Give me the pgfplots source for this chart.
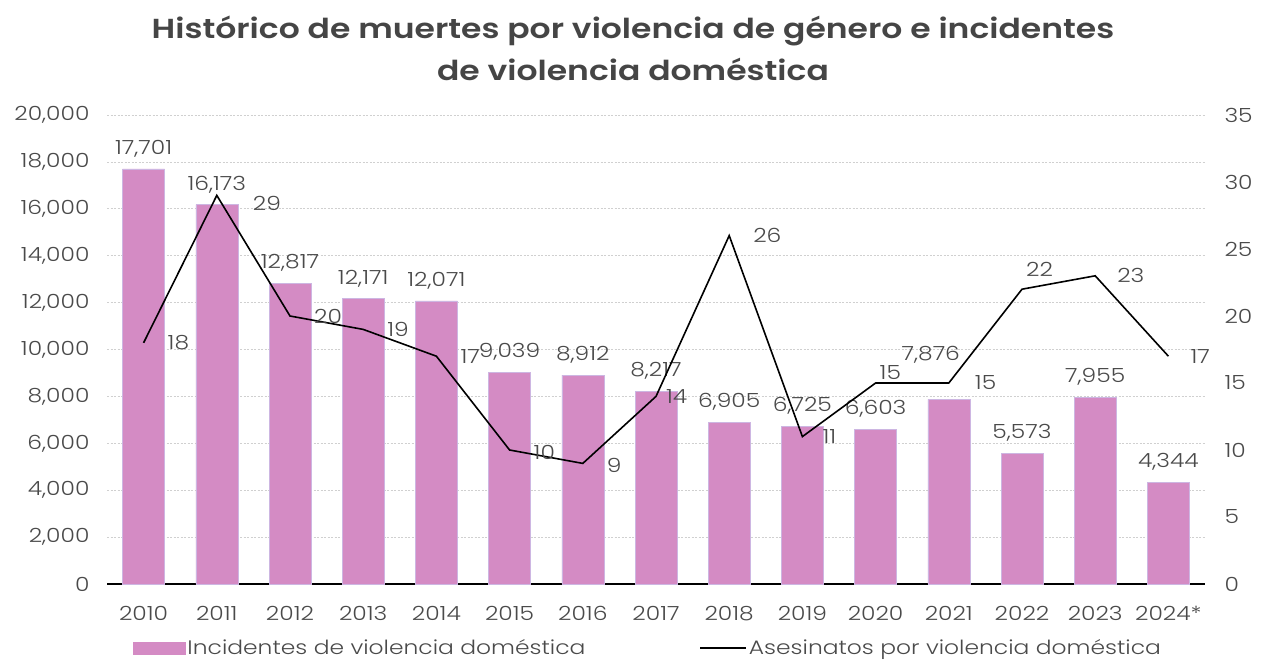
\documentclass[border=0pt]{standalone}
\usepackage{pgfplots}
\pgfplotsset{compat=1.18}
\usepackage{pgfplotstable}
\usepackage{fontspec}
\setmainfont{Poppins}[UprightFont=*-Light, BoldFont=*-SemiBold, FakeStretch=1.2]
\definecolor{barpink}{HTML}{D48BC4}
\definecolor{baredge}{HTML}{CDB6E2}
\definecolor{txt}{HTML}{4A4A4A}
\definecolor{ttl}{HTML}{454545}
\definecolor{gridc}{HTML}{D0D0D0}

\pgfplotstableread{
x y dx dy
0 17701 0 0
1 16173 0 0
2 12817 0 0
3 12171 0 0
4 12071 0 0
5 9039 0 0
6 8912 0 0
7 8217 0 0
8 6905 0 0
9 6725 0 0
10 6603 0 0
11 7876 -18 24
12 5573 0 0
13 7955 0 0
14 4344 0 0
}\bars

\pgfplotstableread{
x y dx dy
0 18 20 0
1 29 32 -8
2 20 20 0
3 19 20 0
4 17 20 0
5 10 20 -2
6 9 20 -2
7 14 6 0
8 26 20 0
9 11 16 0
10 15 0 10
11 15 22 0
12 22 0 20
13 23 18 0
14 17 18 0
}\lines

\begin{document}
\begin{tikzpicture}
\useasboundingbox (0,0) rectangle (1265pt,662pt);
\node[font=\fontsize{27.5}{32}\selectfont\bfseries, text=ttl] at (633pt,631pt) {Histórico de muertes por violencia de género e incidentes};
\node[font=\fontsize{27.5}{32}\selectfont\bfseries, text=ttl] at (633pt,593pt) {de violencia doméstica};

\begin{axis}[
  at={(107pt,78pt)}, anchor=south west,
  width=1098pt, height=469pt, scale only axis,
  xmin=-0.5, xmax=14.5,
  ymin=0, ymax=20000,
  ytick={0,2000,...,20000},
  scaled y ticks=false,
  xtick={0,...,14},
  xticklabels={2010,2011,2012,2013,2014,2015,2016,2017,2018,2019,2020,2021,2022,2023,2024*},
  axis x line*=bottom,
  axis y line*=left,
  y axis line style={draw=none},
  x axis line style={black, line width=1.4pt, -},
  major tick length=0pt,
  ymajorgrids,
  grid style={gridc, line width=0.7pt, dash pattern=on 2pt off 1.5pt},
  tick label style={font=\fontsize{19.5}{22}\selectfont, text=txt},
  /pgf/number format/assume math mode=true,
  /pgf/number format/1000 sep={,},
  yticklabel style={anchor=east, xshift=-14pt},
  xticklabel style={anchor=north, yshift=-19pt},
  visualization depends on={\thisrow{dx} \as \bdx},
  visualization depends on={\thisrow{dy} \as \bdy},
  nodes near coords,
  nodes near coords style={font=\fontsize{19.5}{22}\selectfont, text=txt, anchor=south, yshift=8pt+\bdy pt, xshift=\bdx pt, /pgf/number format/assume math mode=true, /pgf/number format/1000 sep={,}},
]
\addplot[ybar, bar width=42pt, fill=barpink, draw=baredge, line width=0.6pt] table[x=x,y=y] {\bars};
\end{axis}

\begin{axis}[
  at={(107pt,78pt)}, anchor=south west,
  width=1098pt, height=469pt, scale only axis,
  xmin=-0.5, xmax=14.5,
  ymin=0, ymax=35,
  ytick={0,5,...,35},
  axis y line*=right,
  axis x line=none,
  y axis line style={draw=none},
  major tick length=0pt,
  tick label style={font=\fontsize{19.5}{22}\selectfont, text=txt},
  /pgf/number format/assume math mode=true,
  yticklabel style={anchor=west, xshift=16pt},
  legend style={at={(0.5,0)}, anchor=center, yshift=-64pt, xshift=-8pt, draw=none, fill=none,
    font=\fontsize{19.5}{22}\selectfont, text=txt, legend columns=2,
    /tikz/every even column/.append style={column sep=112pt}},
  legend cell align=left,
]
\addlegendimage{legend image code/.code={\fill[barpink] (0pt,-6pt) rectangle (52pt,6pt);}}
\addlegendentry{Incidentes de violencia doméstica}
\addplot[black, line width=1.6pt, mark=none,
  legend image code/.code={\draw[black, line width=1.6pt] (0pt,0pt) -- (46pt,0pt);},
  visualization depends on={\thisrow{dx} \as \dx},
  visualization depends on={\thisrow{dy} \as \dy},
  nodes near coords,
  nodes near coords style={font=\fontsize{19.5}{22}\selectfont, text=txt, anchor=west, xshift=\dx pt, yshift=\dy pt, /pgf/number format/assume math mode=true}
] table[x=x,y=y] {\lines};
\addlegendentry{Asesinatos por violencia doméstica}
\end{axis}
\end{tikzpicture}
\end{document}
